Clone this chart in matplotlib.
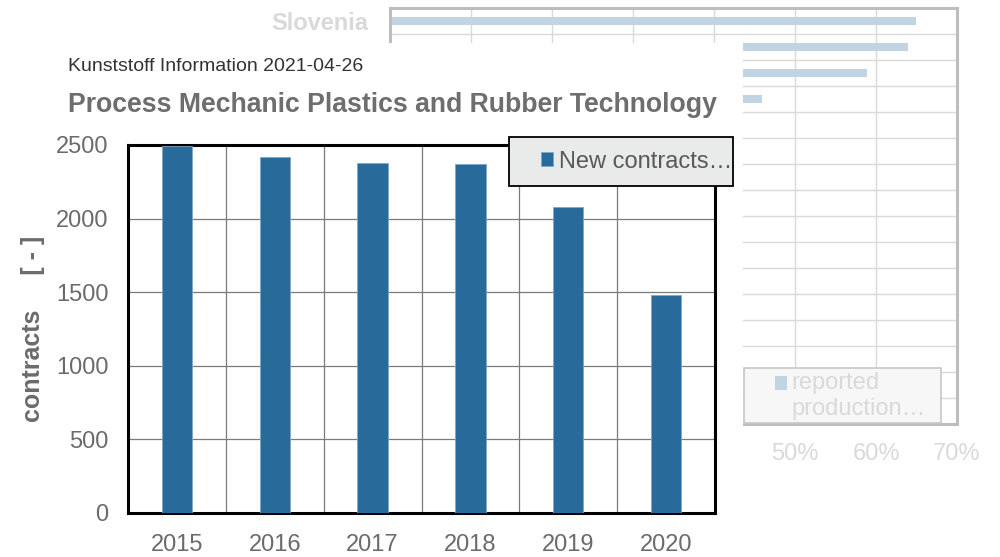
import matplotlib
matplotlib.use("Agg")
import matplotlib.pyplot as plt
from matplotlib.patches import Rectangle
from matplotlib.legend_handler import HandlerPatch
from matplotlib.ticker import PercentFormatter

plt.rcParams['font.family'] = ['Liberation Sans', 'DejaVu Sans']

# main chart: new training contracts per year
years = ['2015', '2016', '2017', '2018', '2019', '2020']
contracts = [2490, 2420, 2380, 2370, 2080, 1480]

# chart behind it: share per country
bg_countries = ['Slovenia']
bg_shares = [64.9, 64.0, 58.9, 45.9]
bg_rows = 16

fig = plt.figure(figsize=(10, 5.57), dpi=100)

# ---- background chart ----
ax_bg = fig.add_axes([0.39, 0.2388, 0.567, 0.7468], zorder=0)
bg_bars = ax_bg.barh(range(len(bg_shares)), bg_shares, height=0.31, color='#c1d4e2')
ax_bg.set_xlim(0, 70)
ax_bg.set_ylim(bg_rows - 0.5, -0.5)
ax_bg.set_xticks(range(0, 71, 10))
ax_bg.xaxis.set_major_formatter(PercentFormatter(decimals=0))
ax_bg.set_yticks(range(len(bg_shares)))
ax_bg.set_yticklabels(bg_countries + [''] * (len(bg_shares) - len(bg_countries)),
                      fontweight='bold')
ax_bg.set_yticks([i + 0.5 for i in range(bg_rows - 1)], minor=True)
ax_bg.grid(axis='x', which='major', color='#d9d9d9', lw=1)
ax_bg.grid(axis='y', which='minor', color='#d9d9d9', lw=1)
ax_bg.set_axisbelow(True)
ax_bg.tick_params(axis='both', which='both', length=0, labelsize=17, colors='#d9d9d9')
ax_bg.tick_params(axis='x', pad=14)
ax_bg.tick_params(axis='y', pad=16)
for s in ax_bg.spines.values():
    s.set_color('#bdbdbd')
    s.set_linewidth(2.2)

fig.add_artist(Rectangle((0.744, 0.2406), 0.197, 0.0987, transform=fig.transFigure,
                         facecolor='#f7f7f7', edgecolor='#c8c8c8', lw=1.2, zorder=0.6))


def square_first_line(legend, orig_handle, xdescent, ydescent, width, height, fontsize):
    return Rectangle((-xdescent, -ydescent + 0.55 * fontsize), width, height)


leg_bg = fig.legend([bg_bars.patches[0]], ['reported\nproduction…'], loc='center left',
                    bbox_to_anchor=(0.775, 0.289), frameon=False, fontsize=17,
                    handlelength=0.51, handleheight=0.51, handletextpad=0.2,
                    borderpad=0, borderaxespad=0, labelspacing=0.1,
                    handler_map={Rectangle: HandlerPatch(patch_func=square_first_line)})
leg_bg.set_zorder(0.7)
for t in leg_bg.get_texts():
    t.set_color('#d9d9d9')

# white panel of the front chart
fig.add_artist(Rectangle((0, 0), 0.743, 0.9228, transform=fig.transFigure,
                         facecolor='white', edgecolor='none', zorder=1))

# ---- front chart ----
ax = fig.add_axes([0.128, 0.079, 0.587, 0.6607], zorder=2)
bars = ax.bar(range(len(years)), contracts, width=0.31, color='#286b9a',
              edgecolor='#7fa7c8', lw=0.6, zorder=3)
ax.set_xlim(-0.5, len(years) - 0.5)
ax.set_ylim(0, 2500)
ax.set_yticks(range(0, 2501, 500))
ax.set_xticks(range(len(years)))
ax.set_xticklabels(years)
ax.set_xticks([i + 0.5 for i in range(len(years) - 1)], minor=True)
ax.grid(axis='y', which='major', color='#7a7a7a', lw=0.9)
ax.grid(axis='x', which='minor', color='#7a7a7a', lw=0.9)
ax.set_axisbelow(True)
ax.tick_params(axis='both', which='both', length=0, labelsize=17, colors='#6b6b6b')
ax.tick_params(axis='x', pad=15)
ax.tick_params(axis='y', pad=14)
for s in ax.spines.values():
    s.set_color('black')
    s.set_linewidth(2.2)
ax.set_ylabel('contracts     [ - ]', fontsize=18, fontweight='bold', color='#6b6b6b')
ax.yaxis.set_label_coords(-0.142, 0.5)

fig.add_artist(Rectangle((0.509, 0.6661), 0.224, 0.088, transform=fig.transFigure,
                         facecolor='#e9ebea', edgecolor='black', lw=1.3, zorder=3))
leg = fig.legend([bars], ['New contracts…'], loc='center left',
                 bbox_to_anchor=(0.541, 0.710), frameon=False, fontsize=17,
                 handlelength=0.51, handleheight=0.51, handletextpad=0.25,
                 borderpad=0, borderaxespad=0)
leg.set_zorder(4)
for t in leg.get_texts():
    t.set_color('#595959')

fig.text(0.068, 0.8815, 'Kunststoff Information 2021-04-26', fontsize=14,
         color='#333333', va='center', ha='left', zorder=5)
fig.text(0.068, 0.8115, 'Process Mechanic Plastics and Rubber Technology', fontsize=19.2,
         fontweight='bold', color='#6e6e6e', va='center', ha='left', zorder=5)

fig.savefig('out.png', dpi=100)
